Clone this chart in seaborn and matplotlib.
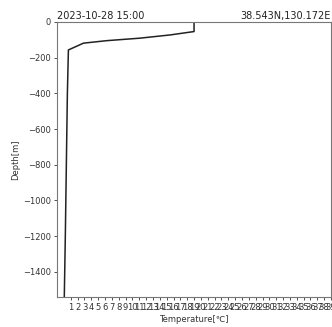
import numpy as np
import pandas as pd
import seaborn as sns
from matplotlib import pyplot as plt

# profile
depth = [0, -54, -73, -91, -105, -119, -157, -400, -800, -1200, -1540]
temperature = [19.0, 19.0, 15.5, 11.1, 6.25, 2.85, 0.65, 0.5, 0.35, 0.2, 0.05]
xticks = list(range(1, 40))
yticks = [0, -200, -400, -600, -800, -1000, -1200, -1400]
date_label = "2023-10-28 15:00"
pos_label = "38.543N,130.172E"

df = pd.DataFrame({"temp": temperature, "depth": depth})

sns.set_style("ticks")
plt.rcParams["font.family"] = ["DejaVu Sans"]

fig = plt.figure(figsize=(3.32, 3.27), dpi=100)
ax = fig.add_axes([0.172, 0.092, 0.825, 0.841])

sns.lineplot(data=df, x="temp", y="depth", sort=False, estimator=None,
             color="#222222", linewidth=1.1, ax=ax)

ax.set_xlim(-1, 39)
ax.set_ylim(-1540, 0)
ax.set_xticks(xticks)
ax.set_xticklabels([str(t) for t in xticks])
ax.set_yticks(yticks)
ax.tick_params(labelsize=6, colors="#333333", length=2.5, width=0.6, pad=2)
for s in ax.spines.values():
    s.set_color("#777777")
    s.set_linewidth(0.8)

ax.set_xlabel("Temperature[℃]", fontsize=6, color="#333333", labelpad=2)
ax.set_ylabel("Depth[m]", fontsize=6, color="#333333", labelpad=2)
ax.set_title(date_label, loc="left", fontsize=7, color="#222222", pad=2)
ax.set_title(pos_label, loc="right", fontsize=7, color="#222222", pad=2)

fig.savefig("out.png", dpi=100)
